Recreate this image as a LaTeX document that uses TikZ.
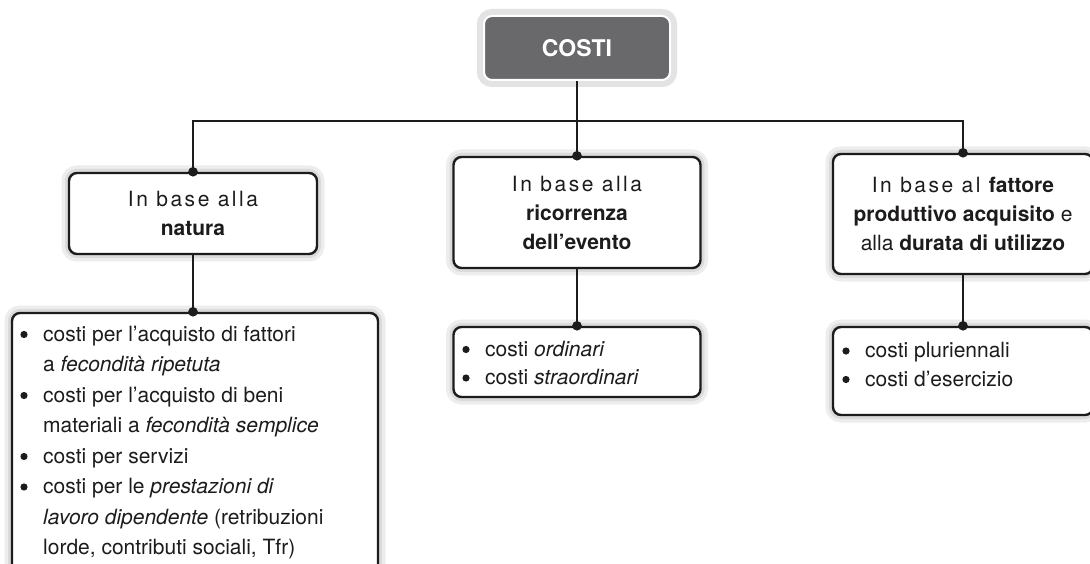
\documentclass[tikz,border=0pt]{standalone}
\usepackage{fontspec}
\setmainfont{TeX Gyre Heros}
\newfontfamily\spacedfont[LetterSpace=12]{TeX Gyre Heros}
\definecolor{ink}{HTML}{1E1B1C}
\definecolor{costigray}{HTML}{69696B}
\newcommand\bulletat[2]{\fill[ink] ({#1-19},{#2-6.5}) circle (3.6pt);}
\tikzset{
  glow/.style={preaction={draw=gray!14, line width=15pt},
               preaction={draw=gray!28, line width=8pt}},
  box/.style={glow, draw=ink, line width=2.4pt, rounded corners=8pt, fill=white,
              inner sep=0pt, align=center},
  topbox/.style={preaction={draw=gray!22, line width=14pt}, fill=costigray, draw=white,
              line width=2pt, rounded corners=8pt, inner sep=0pt, text=white,
              font=\fontsize{23}{28}\selectfont\bfseries},
  conn/.style={draw=ink, line width=2.4pt},
  dot/.style={fill=ink},
  line/.style={anchor=base west, inner sep=0pt},
}
\begin{document}
\begin{tikzpicture}[x=1pt, y=-1pt, font=\fontsize{21}{29}\selectfont, text=ink]
\useasboundingbox (0,0) rectangle (1090,564);
\clip (0,0) rectangle (1090,564);
\fill[white] (0,0) rectangle (1090,564);

% top box
\node[topbox, minimum width=186pt, minimum height=64pt] (costi) at (577,48) {COSTI};

% second level
\node[box, minimum width=248pt, minimum height=81pt] (b1) at (193,213.5)
  {{\spacedfont In base alla}\\\textbf{natura}};
\node[box, minimum width=247pt, minimum height=111pt] (b2) at (577,212.5)
  {{\spacedfont In base alla}\\\textbf{ricorrenza}\\\textbf{dell’evento}};
\node[box, minimum width=260pt, minimum height=120pt] (b3) at (963,214)
  {{\spacedfont In base al} \textbf{fattore}\\\textbf{produttivo acquisito} e\\alla \textbf{durata di utilizzo}};

% third level
\node[box, minimum width=366pt, minimum height=277pt] (l1) at (195,451.5) {};
\node[box, minimum width=247pt, minimum height=70pt] (l2) at (577,362) {};
\node[box, minimum width=260pt, minimum height=88pt] (l3) at (963,371) {};

% connectors
\coordinate (j) at (577,121);
\draw[conn] (costi.south) -- (j);
\draw[conn] (b1.north) -- (b1.north |- j) -- (b3.north |- j) -- (b3.north);
\draw[conn] (j) -- (b2.north);
\draw[conn] (b1.south) -- (b1.south |- l1.north);
\draw[conn] (b2.south) -- (l2.north);
\draw[conn] (b3.south) -- (l3.north);
\foreach \p in {b1.north, b2.north, b3.north, l2.north, l3.north}
  \fill[dot] (\p) circle (4.8pt);
\fill[dot] (b1.south |- l1.north) circle (4.8pt);

% list texts left
\node[line] (a1) at (43,341) {costi per l’acquisto di fattori};
\node[line] (a2) at (43,371.5) {a \textit{fecondità ripetuta}};
\node[line] (a3) at (43,402) {costi per l’acquisto di beni};
\node[line] (a4) at (43,432.5) {materiali a \textit{fecondità semplice}};
\node[line] (a5) at (43,463) {costi per servizi};
\node[line] (a6) at (43,493.5) {costi per le \textit{prestazioni di}};
\node[line] (a7) at (43,524) {\textit{lavoro dipendente} (retribuzioni};
\node[line] (a8) at (43,554.5) {lorde, contributi sociali, Tfr)};
\bulletat{43}{341}
\bulletat{43}{402}
\bulletat{43}{463}
\bulletat{43}{493.5}

% middle list
\node[line] (m1) at (485,356) {costi \textit{ordinari}};
\node[line] (m2) at (485,384.5) {costi \textit{straordinari}};
\bulletat{485}{356}
\bulletat{485}{384.5}

% right list
\node[line] (r1) at (865,357.5) {costi pluriennali};
\node[line] (r2) at (865,386) {costi d’esercizio};
\bulletat{865}{357.5}
\bulletat{865}{386}
\end{tikzpicture}
\end{document}
